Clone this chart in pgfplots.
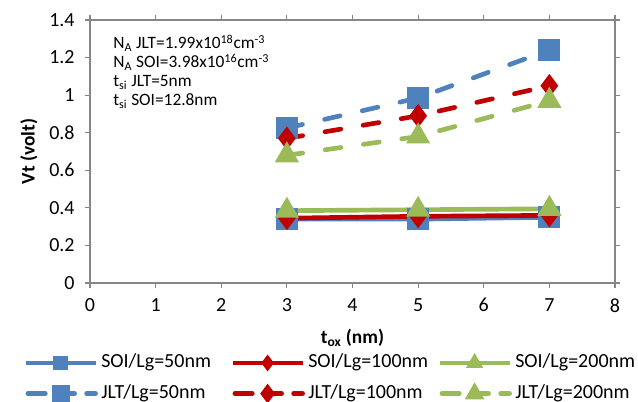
\documentclass[border=0pt]{standalone}
\usepackage{fontspec}
\setmainfont{Carlito}
\usepackage{pgfplots}
\pgfplotsset{compat=1.18}
\definecolor{cb}{HTML}{4F81BD}
\definecolor{cr}{HTML}{C00000}
\definecolor{cg}{HTML}{9BBB59}
\definecolor{ax}{HTML}{868686}
\begin{document}
\begin{tikzpicture}[x=1pt,y=1pt]
\path[use as bounding box] (-67.5,-88.5) rectangle (411,212.25);
\begin{axis}[at={(0,0)},anchor=south west,
  scale only axis, width=393.75pt, height=197.25pt,
  xmin=0,xmax=8,ymin=0,ymax=1.4,
  xtick={0,1,2,3,4,5,6,7,8},
  ytick={0,0.2,0.4,0.6,0.8,1,1.2,1.4},
  yticklabels={0,0.2,0.4,0.6,0.8,1,1.2,1.4},
  tick align=outside, major tick length=4pt,
  tick style={ax, line width=0.8pt},
  axis line style={ax, line width=1.2pt},
  every tick label/.append style={font=\fontsize{15}{17}\selectfont, text=black},
  yticklabel style={xshift=-4pt},
  xticklabel style={yshift=-4pt},
  /pgf/number format/assume math mode=true,
  xlabel={\textbf{t\textsubscript{ox} (nm)}},
  ylabel={\textbf{Vt (volt)}},
  label style={font=\fontsize{14.5}{16}\selectfont},
  xlabel style={yshift=-6pt},
  ylabel style={yshift=2pt},
  legend columns=3,
  legend cell align=left,
  legend style={at={(-0.1276,-0.27)}, anchor=north west, draw=none, fill=none,
    inner sep=0pt, font=\fontsize{15}{16}\selectfont,
    row sep=10pt,
    nodes={inner sep=0pt, text height=10pt, text depth=3pt},
    /tikz/every odd column/.style={column sep=2.5pt}},
  legend image code/.code={
    \draw[mark repeat=2,mark phase=2,#1] plot coordinates {(0pt,0pt) (26.25pt,0pt) (52.5pt,0pt)};},
]
\addplot[cb, line width=3.5pt, mark=square*, mark size=6.5pt, mark options={solid}, forget plot] coordinates {(3,0.34) (5,0.34) (7,0.35)};
\addplot[cr, line width=3.5pt, mark=diamond*, mark size=6pt, mark options={solid}, forget plot] coordinates {(3,0.345) (5,0.355) (7,0.36)};
\addplot[cg, line width=3.5pt, mark=triangle*, mark size=7pt, mark options={solid}, forget plot] coordinates {(3,0.385) (5,0.39) (7,0.395)};
\addplot[cb, line width=3.5pt, line cap=round, dash pattern=on 12pt off 17pt, mark=square*, mark size=6.5pt, mark options={solid}, forget plot] coordinates {(3,0.825) (5,0.985) (7,1.24)};
\addplot[cr, line width=3.5pt, line cap=round, dash pattern=on 12pt off 17pt, mark=diamond*, mark size=6pt, mark options={solid}, forget plot] coordinates {(3,0.77) (5,0.89) (7,1.05)};
\addplot[cg, line width=3.5pt, line cap=round, dash pattern=on 12pt off 17pt, mark=triangle*, mark size=7pt, mark options={solid}, forget plot] coordinates {(3,0.68) (5,0.78) (7,0.97)};
\addlegendimage{cb, line width=3.5pt, mark=square*, mark size=3.6pt}
\addlegendentry{\makebox[96.75pt][l]{SOI/Lg=50nm}}
\addlegendimage{cr, line width=3.5pt, mark=diamond*, mark size=3.4pt}
\addlegendentry{\makebox[96.75pt][l]{SOI/Lg=100nm}}
\addlegendimage{cg, line width=3.5pt, mark=triangle*, mark size=4pt}
\addlegendentry{SOI/Lg=200nm}
\addlegendimage{cb, line width=3.5pt, line cap=round, dash pattern=on 13pt off 9pt, dash phase=-1.75pt, mark=square*, mark size=5pt, mark options={solid}}
\addlegendentry{\makebox[96.75pt][l]{JLT/Lg=50nm}}
\addlegendimage{cr, line width=3.5pt, line cap=round, dash pattern=on 13pt off 9pt, dash phase=-1.75pt, mark=diamond*, mark size=4.5pt, mark options={solid}}
\addlegendentry{\makebox[96.75pt][l]{JLT/Lg=100nm}}
\addlegendimage{cg, line width=3.5pt, line cap=round, dash pattern=on 13pt off 9pt, dash phase=-1.75pt, mark=triangle*, mark size=5pt, mark options={solid}}
\addlegendentry{JLT/Lg=200nm}
\draw[ax, line width=1.2pt] (rel axis cs:0,1) -- (rel axis cs:1,1) -- (rel axis cs:1,0);
\node[anchor=north west, align=left, font=\fontsize{13}{14.25}\selectfont, inner sep=0pt] at (rel axis cs:0.044,0.945)
  {N\textsubscript{A} JLT=1.99x10\textsuperscript{18}cm\textsuperscript{-3}\\
   N\textsubscript{A} SOI=3.98x10\textsuperscript{16}cm\textsuperscript{-3}\\
   t\textsubscript{si} JLT=5nm\\
   t\textsubscript{si} SOI=12.8nm};
\end{axis}
\end{tikzpicture}
\end{document}
